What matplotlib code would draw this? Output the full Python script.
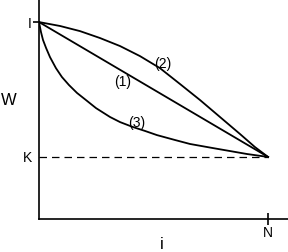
import matplotlib
matplotlib.use("Agg")
from matplotlib import pyplot as plt

# W against i, all curves start at I (i=0) and end at K (i=N)
N = 10.0
I = 10.0
K = 3.15

# (1) straight
i_1 = [0.0, 10.0]
w_1 = [10.0, 3.15]

# (2) bowed upward
i_2 = [0.0, 0.92, 1.79, 2.66, 3.54, 4.41, 5.28, 6.16, 7.03, 7.90, 8.78, 9.43, 10.0]
w_2 = [10.0, 9.80, 9.54, 9.19, 8.78, 8.27, 7.66, 6.85, 6.04, 5.18, 4.31, 3.65, 3.15]

# (3) bowed downward
i_3 = [0.0, 0.087, 0.175, 0.31, 0.48, 0.74, 1.00, 1.31, 1.66, 2.05, 2.49, 3.10, 3.54,
       4.10, 4.63, 5.15, 5.94, 6.59, 7.60, 8.34, 9.08, 10.0]
w_3 = [10.0, 9.49, 9.09, 8.68, 8.22, 7.66, 7.21, 6.80, 6.40, 6.04, 5.63, 5.18, 4.92,
       4.67, 4.47, 4.26, 4.01, 3.81, 3.60, 3.45, 3.30, 3.15]

curve_labels = ["(1)", "(2)", "(3)"]
label_pos = [(3.67, 6.95), (5.41, 7.87), (4.28, 4.87)]

plt.rcParams['font.family'] = ['Liberation Sans', 'DejaVu Sans']

fig = plt.figure(figsize=(2.88, 2.52), dpi=100)
ax = fig.add_axes([39/288, 33/252, 249/288, 219/252])

lw = 1.3
ax.plot(i_1, w_1, color="black", lw=lw)
ax.plot(i_2, w_2, color="black", lw=lw)
ax.plot(i_3, w_3, color="black", lw=lw)
ax.plot([0, N], [K, K], color="black", lw=0.9, dashes=(6, 4))

for txt, (x, y) in zip(curve_labels, label_pos):
    ax.text(x, y, txt, fontsize=10, ha="center", va="center")

ax.set_xlim(0, 10.87)
ax.set_ylim(0, 11.12)
ax.spines['top'].set_visible(False)
ax.spines['right'].set_visible(False)
for s in ['left', 'bottom']:
    ax.spines[s].set_linewidth(1.2)

ax.set_yticks([K, I], ["K", "I"], fontsize=10)
ax.tick_params(axis="y", direction="out", length=4, width=1.2, pad=1)
ax.yaxis.get_major_ticks()[0].tick1line.set_visible(False)
ax.set_xticks([N], ["N"], fontsize=10)
ax.tick_params(axis="x", direction="inout", length=8, width=1.2, pad=1)

ax.set_xlabel("i", fontsize=12)
ax.xaxis.set_label_coords(0.494, -0.115)
ax.xaxis.label.set_va("center")
ax.set_ylabel("W", fontsize=12, rotation=0)
ax.yaxis.set_label_coords(-0.12, 0.543)
ax.yaxis.label.set_va("center")
ax.yaxis.label.set_ha("center")

fig.savefig("out.png", dpi=100)
